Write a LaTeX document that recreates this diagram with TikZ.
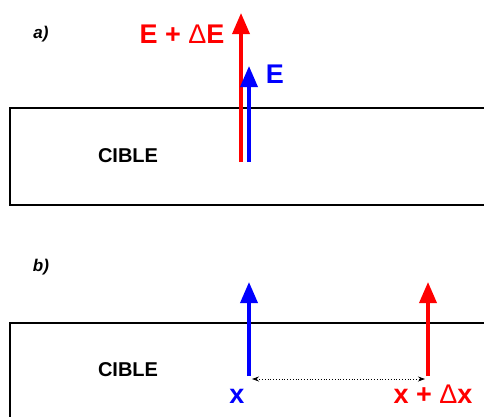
\documentclass[tikz,border=0pt]{standalone}
\usepackage{fontspec}
\setmainfont{Liberation Sans}
\usetikzlibrary{arrows.meta}
\definecolor{pred}{RGB}{255,0,0}
\definecolor{pblue}{RGB}{0,0,255}
\tikzset{
  target/.style={line width=1.8pt, black},
  beam/.style={line width=3.5pt, -{Triangle[length=21pt,width=17pt]}},
  gap/.style={line width=0.8pt, dotted, {Stealth[length=7pt,width=5pt]}-{Stealth[length=7pt,width=5pt]}},
  bigtxt/.style={font=\fontsize{27}{30}\selectfont\bfseries, inner sep=0pt, anchor=base},
  cible/.style={font=\fontsize{20}{24}\selectfont\bfseries, inner sep=0pt, anchor=base},
  tag/.style={font=\fontsize{17}{20}\selectfont\bfseries\itshape, inner sep=0pt, anchor=base}
}
\begin{document}
\begin{tikzpicture}[x=1pt,y=-1pt]
\useasboundingbox (0,0) rectangle (484,416);
\clip (0,0) rectangle (484,416);
% panel a
\node[tag] (ta) at (41,38) {a)};
\draw[target] (495,108) -- (10,108) -- (10,205) -- (495,205);
\node[cible] (c1) at (128,162) {CIBLE};
\coordinate (r1s) at (241,162);
\coordinate (r1e) at (241,13);
\coordinate (b1s) at (249,162);
\coordinate (b1e) at (249,66);
\draw[beam, pred] (r1s) -- (r1e);
\draw[beam, pblue] (b1s) -- (b1e);
\node[bigtxt, pred] (lE2) at (182,43) {E + {\mdseries Δ}E};
\node[bigtxt, pblue] (lE1) at (275,83) {E};
% panel b
\node[tag] (tb) at (41,271) {b)};
\draw[target] (495,323) -- (10,323) -- (10,425);
\node[cible] (c2) at (128,376) {CIBLE};
\coordinate (b2s) at (249,376);
\coordinate (b2e) at (249,282);
\coordinate (r2s) at (428,376);
\coordinate (r2e) at (428,282);
\draw[beam, pblue] (b2s) -- (b2e);
\draw[beam, pred] (r2s) -- (r2e);
\coordinate (g1) at (252,379);
\coordinate (g2) at (425,379);
\draw[gap] (g1) -- (g2);
\node[bigtxt, pblue] (lx1) at (237,403) {x};
\node[bigtxt, pred] (lx2) at (433,403) {x + {\mdseries Δ}x};
\end{tikzpicture}
\end{document}
